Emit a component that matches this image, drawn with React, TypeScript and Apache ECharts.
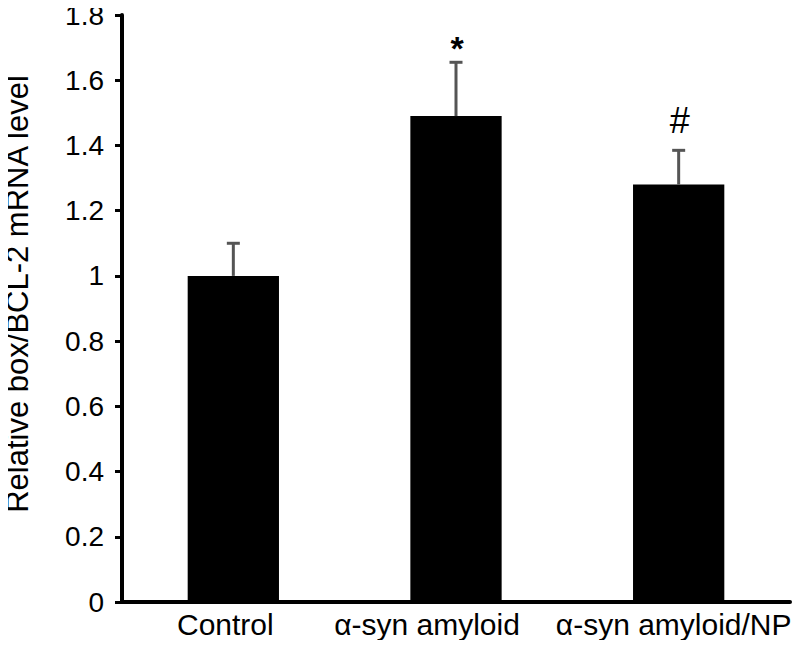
import React, { useEffect, useRef } from "react";
import * as echarts from "echarts";

const categories = ["Control", "α-syn amyloid", "α-syn amyloid/NP"];
const means = [1.0, 1.49, 1.28];
const upperErrors = [1.1, 1.655, 1.385];
const annotations = ["", "*", "#"];
const annotationValues = [0, 1.7, 1.475];
const yTicks = { min: 0, max: 1.8, interval: 0.2 };
const labelShift = [16, 58, 10];

export default function App() {
  const ref = useRef<HTMLDivElement>(null);
  useEffect(() => {
    if (!ref.current) return;
    const chart = echarts.init(ref.current, null, { renderer: "svg" });
    const font = "Liberation Sans, Arial, Helvetica, sans-serif";
    chart.setOption({
      animation: false,
      backgroundColor: "#ffffff",
      grid: { left: 122, right: 11, top: 15, bottom: 46, containLabel: false },
      xAxis: {
        type: "category",
        data: categories.map((c, i) => ({
          value: c,
          textStyle: { padding: [0, labelShift[i], 0, 0] },
        })),
        axisLine: { show: true, lineStyle: { color: "#000", width: 4 } },
        axisTick: { show: false },
        axisLabel: {
          color: "#000",
          fontFamily: font,
          fontSize: 30,
          margin: 7,
          interval: 0,
        },
        splitLine: { show: false },
      },
      yAxis: {
        type: "value",
        min: yTicks.min,
        max: yTicks.max,
        interval: yTicks.interval,
        axisLine: { show: true, lineStyle: { color: "#000", width: 4 } },
        axisTick: { show: true, length: 7, lineStyle: { color: "#000", width: 3 } },
        axisLabel: {
          color: "#000",
          fontFamily: font,
          fontSize: 28,
          margin: 18,
        },
        splitLine: { show: false },
      },
      graphic: [
        {
          type: "text",
          x: 17,
          y: 294,
          rotation: Math.PI / 2,
          style: {
            text: "Relative box/BCL-2 mRNA level",
            fill: "#000",
            font: `31px ${font}`,
            align: "center",
            verticalAlign: "middle",
          },
        },
      ],
      series: [
        {
          type: "bar",
          data: means,
          barWidth: "41%",
          itemStyle: { color: "#000" },
          z: 2,
        },
        {
          type: "custom",
          data: categories.map((_, i) => [i, upperErrors[i], means[i], annotationValues[i]]),
          z: 3,
          renderItem: (params: any, api: any) => {
            const i = api.value(0);
            const top = api.coord([i, api.value(1)]);
            const base = api.coord([i, api.value(2)]);
            const ann = api.coord([i, api.value(3)]);
            const children: any[] = [
              {
                type: "line",
                shape: { x1: top[0], y1: base[1], x2: top[0], y2: top[1] },
                style: { stroke: "#555", lineWidth: 3 },
              },
              {
                type: "line",
                shape: { x1: top[0] - 6.5, y1: top[1], x2: top[0] + 6.5, y2: top[1] },
                style: { stroke: "#555", lineWidth: 3 },
              },
            ];
            const t = annotations[params.dataIndex];
            if (t) {
              children.push({
                type: "text",
                x: ann[0] + 1,
                y: ann[1],
                style: {
                  text: t,
                  fill: "#000",
                  font: t === "*" ? `bold 34px ${font}` : `36px ${font}`,
                  align: "center",
                  verticalAlign: "middle",
                },
              });
            }
            return { type: "group", children };
          },
        },
      ],
    });
    return () => chart.dispose();
  }, []);
  return <div ref={ref} style={{ width: 801, height: 648, margin: -8 }} />;
}
